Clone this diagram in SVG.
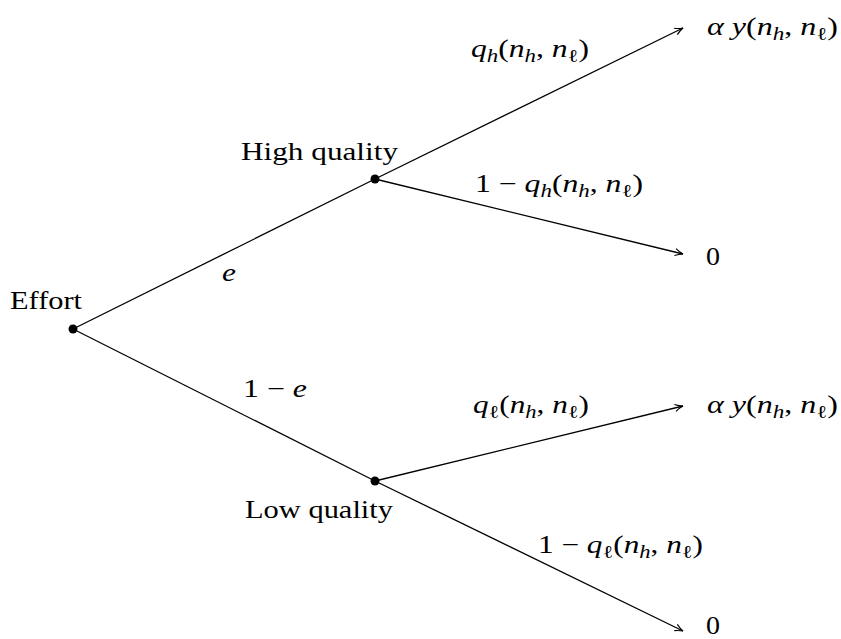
<svg xmlns="http://www.w3.org/2000/svg" width="841" height="639" viewBox="0 0 841 639" font-family="'Liberation Serif', 'DejaVu Serif', serif">
<style>
text{font-family:'Liberation Serif','DejaVu Serif',serif;font-size:25px;fill:#000}
.i{font-style:italic}
.s{font-size:18px}
.edge{stroke:#000;stroke-width:1.3;fill:none}
</style>
<defs>
<marker id="arr" viewBox="0 0 10 10" refX="9" refY="5" markerWidth="10" markerHeight="10" markerUnits="userSpaceOnUse" orient="auto">
<path d="M1,1.5 Q5,4 9,5 Q5,6 1,8.5" fill="none" stroke="#000" stroke-width="1.1"/>
</marker>
</defs>
<rect width="841" height="639" fill="#fff"/>
<g id="connectors">
<line class="edge" x1="73" y1="329" x2="375" y2="179"/>
<line class="edge" x1="73" y1="329" x2="375" y2="481"/>
<line class="edge" x1="375" y1="179" x2="683" y2="28" marker-end="url(#arr)"/>
<line class="edge" x1="375" y1="179" x2="683" y2="254" marker-end="url(#arr)"/>
<line class="edge" x1="375" y1="481" x2="683" y2="406" marker-end="url(#arr)"/>
<line class="edge" x1="375" y1="481" x2="683" y2="631" marker-end="url(#arr)"/>
<text x="222" y="281" class="i" textLength="14" lengthAdjust="spacingAndGlyphs">e</text>
<text x="243" y="397" textLength="64" lengthAdjust="spacingAndGlyphs">1 − <tspan class="i">e</tspan></text>
<text x="471" y="57" textLength="118" lengthAdjust="spacingAndGlyphs"><tspan class="i">q</tspan><tspan class="i s" dy="5">h</tspan><tspan dy="-5">(</tspan><tspan class="i">n</tspan><tspan class="i s" dy="5">h</tspan><tspan dy="-5">, </tspan><tspan class="i">n</tspan><tspan class="s" dy="5">ℓ</tspan><tspan dy="-5">)</tspan></text>
<text x="475" y="192" textLength="168" lengthAdjust="spacingAndGlyphs">1 − <tspan class="i">q</tspan><tspan class="i s" dy="5">h</tspan><tspan dy="-5">(</tspan><tspan class="i">n</tspan><tspan class="i s" dy="5">h</tspan><tspan dy="-5">, </tspan><tspan class="i">n</tspan><tspan class="s" dy="5">ℓ</tspan><tspan dy="-5">)</tspan></text>
<text x="473" y="413" textLength="116" lengthAdjust="spacingAndGlyphs"><tspan class="i">q</tspan><tspan class="s" dy="5">ℓ</tspan><tspan dy="-5">(</tspan><tspan class="i">n</tspan><tspan class="i s" dy="5">h</tspan><tspan dy="-5">, </tspan><tspan class="i">n</tspan><tspan class="s" dy="5">ℓ</tspan><tspan dy="-5">)</tspan></text>
<text x="538" y="553" textLength="165" lengthAdjust="spacingAndGlyphs">1 − <tspan class="i">q</tspan><tspan class="s" dy="5">ℓ</tspan><tspan dy="-5">(</tspan><tspan class="i">n</tspan><tspan class="i s" dy="5">h</tspan><tspan dy="-5">, </tspan><tspan class="i">n</tspan><tspan class="s" dy="5">ℓ</tspan><tspan dy="-5">)</tspan></text>
</g>
<g id="effort">
<circle cx="73" cy="329" r="4.5" fill="#000"/>
<text x="10" y="309" textLength="72" lengthAdjust="spacingAndGlyphs">Effort</text>
</g>
<g id="high">
<circle cx="375" cy="179" r="4.5" fill="#000"/>
<text x="241" y="160" textLength="157" lengthAdjust="spacingAndGlyphs">High quality</text>
</g>
<g id="low">
<circle cx="375" cy="481" r="4.5" fill="#000"/>
<text x="245" y="518" textLength="148" lengthAdjust="spacingAndGlyphs">Low quality</text>
</g>
<g id="out1">
<text x="707" y="35" textLength="131" lengthAdjust="spacingAndGlyphs"><tspan class="i">α y</tspan>(<tspan class="i">n</tspan><tspan class="i s" dy="5">h</tspan><tspan dy="-5">, </tspan><tspan class="i">n</tspan><tspan class="s" dy="5">ℓ</tspan><tspan dy="-5">)</tspan></text>
</g>
<g id="out2">
<text x="706" y="265" textLength="14" lengthAdjust="spacingAndGlyphs">0</text>
</g>
<g id="out3">
<text x="707" y="413" textLength="131" lengthAdjust="spacingAndGlyphs"><tspan class="i">α y</tspan>(<tspan class="i">n</tspan><tspan class="i s" dy="5">h</tspan><tspan dy="-5">, </tspan><tspan class="i">n</tspan><tspan class="s" dy="5">ℓ</tspan><tspan dy="-5">)</tspan></text>
</g>
<g id="out4">
<text x="706" y="634" textLength="14" lengthAdjust="spacingAndGlyphs">0</text>
</g>
</svg>
